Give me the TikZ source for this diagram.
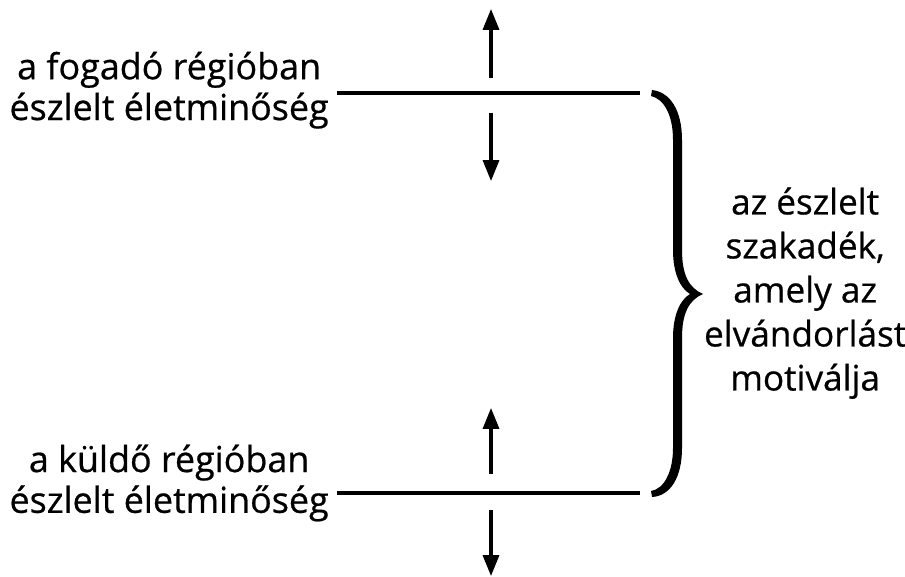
\documentclass[tikz,border=0pt]{standalone}
\usepackage{fontspec}
\setmainfont{Open Sans}
\newfontfamily\labfont[FakeBold=0.6]{Open Sans}
\usetikzlibrary{arrows.meta, positioning}
\tikzstyle{lbl}   = [align=center, inner sep=0pt,
                     font=\labfont\fontsize{25.5}{29}\selectfont]
\tikzstyle{gap}   = [align=center, inner sep=0pt,
                     font=\labfont\fontsize{25}{31.3}\selectfont]
\tikzstyle{level} = [line width=2.2pt]
\tikzstyle{arr}   = [-{Triangle[length=0.52cm, width=0.4cm]}, line width=2.2pt]

\begin{document}
\begin{tikzpicture}[x=0.025cm, y=-0.025cm, node distance=0.2cm]
  \useasboundingbox (0,0) rectangle (905,577);

  \coordinate (fa) at (337,93);
  \coordinate (fb) at (640,93);
  \coordinate (ka) at (337,493);
  \coordinate (kb) at (640,493);
  \draw[level] (fa) -- (fb);
  \draw[level] (ka) -- (kb);

  \node[lbl, left=of fa, yshift=0.07cm] (fog)
      {a fogadó régióban\\észlelt életminőség};
  \node[lbl, left=of ka, yshift=0.25cm] (kul)
      {a küldő régióban\\észlelt életminőség};

  \coordinate (fup0) at (491,78);  \coordinate (fup1) at (491,9);
  \coordinate (fdn0) at (491,113); \coordinate (fdn1) at (491,181);
  \coordinate (kup0) at (491,474); \coordinate (kup1) at (491,408);
  \coordinate (kdn0) at (491,510); \coordinate (kdn1) at (491,576);
  \draw[arr] (fup0) -- (fup1);
  \draw[arr] (fdn0) -- (fdn1);
  \draw[arr] (kup0) -- (kup1);
  \draw[arr] (kdn0) -- (kdn1);

  \fill (652,90) .. controls (670,92) and (682,110) .. (682,140)
    -- (682,250) .. controls (682,275) and (689,288) .. (703,294)
    .. controls (689,300) and (682,313) .. (682,338)
    -- (682,448) .. controls (682,478) and (670,496) .. (652,497)
    -- (651,491) .. controls (664,489) and (673,472) .. (673,448)
    -- (673,338) .. controls (673,315) and (680,300) .. (690,294)
    .. controls (680,288) and (673,273) .. (673,250)
    -- (673,140) .. controls (673,115) and (664,99) .. (651,96) -- cycle;
  \coordinate (tip) at (703,294);

  \node[gap, right=0.02cm of tip, yshift=0.02cm] (szak)
      {az észlelt\\szakadék,\\amely az\\elvándorlást\\motiválja};

\end{tikzpicture}
\end{document}
